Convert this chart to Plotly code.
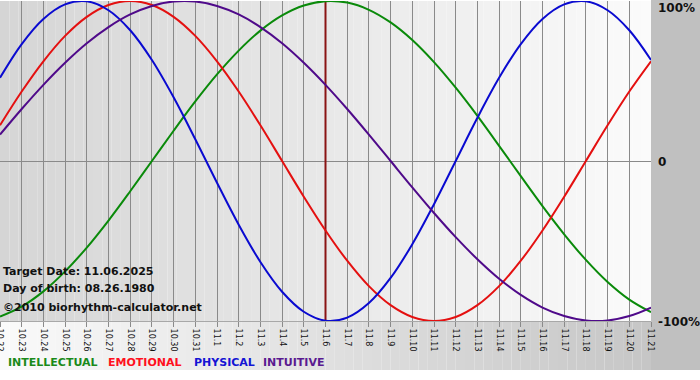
import plotly.graph_objects as go

# ---- data ----
dates = ["10.22", "10.23", "10.24", "10.25", "10.26", "10.27", "10.28", "10.29", "10.30", "10.31",
         "11.1", "11.2", "11.3", "11.4", "11.5", "11.6", "11.7", "11.8", "11.9", "11.10",
         "11.11", "11.12", "11.13", "11.14", "11.15", "11.16", "11.17", "11.18", "11.19", "11.20", "11.21"]
target_date = "11.6"

intellectual = [-0.972, -0.910, -0.815, -0.690, -0.541, -0.372, -0.189, 0.000, 0.189, 0.372, 0.541,
                0.690, 0.815, 0.910, 0.972, 0.999, 0.990, 0.945, 0.866, 0.756, 0.618, 0.458, 0.282,
                0.095, -0.095, -0.282, -0.458, -0.618, -0.756, -0.866, -0.945]
emotional = [0.223, 0.434, 0.623, 0.782, 0.901, 0.975, 1.000, 0.975, 0.901, 0.782, 0.623, 0.434, 0.223,
             0.000, -0.223, -0.434, -0.623, -0.782, -0.901, -0.975, -1.000, -0.975, -0.901, -0.782,
             -0.623, -0.434, -0.223, 0.000, 0.223, 0.434, 0.623]
physical = [0.520, 0.731, 0.888, 0.979, 0.998, 0.942, 0.817, 0.631, 0.398, 0.136, -0.136, -0.398, -0.631,
            -0.817, -0.942, -0.998, -0.979, -0.888, -0.731, -0.520, -0.270, 0.000, 0.270, 0.520, 0.731,
            0.888, 0.979, 0.998, 0.942, 0.817, 0.631]
intuitive = [0.165, 0.325, 0.476, 0.614, 0.736, 0.837, 0.916, 0.969, 0.997, 0.997, 0.969, 0.916, 0.837,
             0.736, 0.614, 0.476, 0.325, 0.165, 0.000, -0.165, -0.325, -0.476, -0.614, -0.736, -0.837,
             -0.916, -0.969, -0.997, -0.997, -0.969, -0.916]

series_names = ["INTELLECTUAL", "EMOTIONAL", "PHYSICAL", "INTUITIVE"]
y_tick_vals = [1, 0, -1]
y_tick_text = ["100%", "0", "-100%"]
info_lines = ["Target Date: 11.06.2025", "Day of birth: 08.26.1980", "©2010 biorhythm-calculator.net"]

# ---- styles ----
line_colors = ["#0a8a0a", "#e41010", "#0a0ad0", "#4f0a8a"]
label_colors = ["#1a8a1a", "#ff1020", "#1414d4", "#5a1a90"]

W, H = 700, 380
ML, MR, MT, MB = 0, 49, 1, 59
PW = W - ML - MR
PH = H - MT - MB


def px_x(px):
    return (px - ML) / PW


def px_y(py):
    return (H - MB - py) / PH


fig = go.Figure()

# target date line (drawn first so curves go on top)
fig.add_trace(go.Scatter(x=[target_date, target_date], y=[-1.05, 1.05], mode="lines",
                         line=dict(color="#8a1414", width=2), hoverinfo="skip", showlegend=False))

for name, vals, col in zip(series_names, [intellectual, emotional, physical, intuitive], line_colors):
    fig.add_trace(go.Scatter(x=dates, y=vals, mode="lines", name=name,
                             line=dict(color=col, width=2, shape="spline", smoothing=1.0),
                             showlegend=False))

shapes = []
# plot area gradient (dark left -> light right)
N = 70
for i in range(N):
    t = (i + 0.5) / N
    g = int(round(213 + (251 - 213) * t))
    shapes.append(dict(type="rect", xref="paper", yref="paper", x0=i / N, x1=(i + 1) / N,
                       y0=0, y1=1, fillcolor=f"rgb({g},{g},{g})", line=dict(width=0), layer="below"))
# bottom band gradient (light left -> darker right)
yb = px_y(370)
for i in range(N):
    t = (i + 0.5) / N
    g = int(round(250 + (198 - 250) * t))
    shapes.append(dict(type="rect", xref="paper", yref="paper", x0=i / N, x1=(i + 1) / N,
                       y0=yb, y1=0, fillcolor=f"rgb({g},{g},{g})", line=dict(width=0), layer="below"))
# right gray strip
shapes.append(dict(type="rect", xref="paper", yref="paper", x0=1, x1=px_x(W),
                   y0=yb, y1=px_y(0), fillcolor="#c0c0c0", line=dict(width=0), layer="below"))

annotations = []
# right y labels
label_py = {1: 8, 0: 162, -1: 322}
for v, txt in zip(y_tick_vals, y_tick_text):
    annotations.append(dict(xref="paper", yref="paper", x=px_x(656), y=px_y(label_py[v]),
                            text=f"<b>{txt}</b>", showarrow=False, xanchor="left", yanchor="middle",
                            font=dict(family="DejaVu Sans", size=12, color="#111111")))
# info text
for txt, py in zip(info_lines, [271, 288, 307]):
    annotations.append(dict(xref="paper", yref="paper", x=px_x(1), y=px_y(py),
                            text=f"<b>{txt}</b>", showarrow=False, xanchor="left", yanchor="middle",
                            font=dict(family="DejaVu Sans", size=11, color="#111111")))
# legend words
for txt, col, px in zip(series_names, label_colors, [7, 107, 193, 262]):
    annotations.append(dict(xref="paper", yref="paper", x=px_x(px), y=px_y(362),
                            text=f"<b>{txt}</b>", showarrow=False, xanchor="left", yanchor="middle",
                            xshift=-1, font=dict(family="DejaVu Sans", size=11, color=col)))

fig.update_layout(
    width=W, height=H,
    margin=dict(l=ML, r=MR, t=MT, b=MB, pad=0, autoexpand=False),
    paper_bgcolor="white",
    plot_bgcolor="rgba(0,0,0,0)",
    shapes=shapes,
    annotations=annotations,
    xaxis=dict(type="category", categoryorder="array", categoryarray=dates,
               range=[0, len(dates) - 1], tickangle=90, automargin=False,
               showgrid=True, gridcolor="#8a8a8a", gridwidth=1,
               ticks="outside", ticklen=5, tickcolor="#8a8a8a",
               showline=True, linecolor="#a8a8a8", linewidth=1,
               tickfont=dict(family="DejaVu Sans", size=8, color="#111111"),
               fixedrange=True),
    yaxis=dict(range=[-1, 1], showgrid=False, zeroline=True, zerolinecolor="#8a8a8a",
               zerolinewidth=1, showticklabels=False, ticks="", fixedrange=True,
               automargin=False),
    showlegend=False,
)

fig.write_html("out.html",
               config={"displayModeBar": False},
               post_script="document.body.style.margin='0px';"
                           "document.documentElement.style.overflow='hidden';")
